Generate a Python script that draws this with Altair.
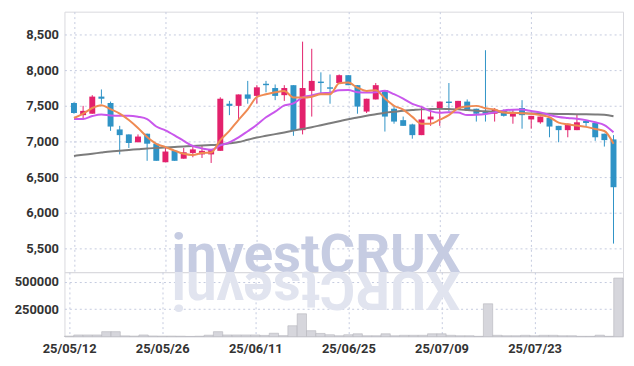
import altair as alt
import pandas as pd

dates = ["25/05/12", "25/05/13", "25/05/14", "25/05/15", "25/05/16", "25/05/19", "25/05/20", "25/05/21", "25/05/22", "25/05/23",
         "25/05/26", "25/05/27", "25/05/28", "25/05/29", "25/05/30", "25/06/02", "25/06/04", "25/06/05", "25/06/09", "25/06/10",
         "25/06/11", "25/06/12", "25/06/13", "25/06/16", "25/06/17", "25/06/18", "25/06/19", "25/06/20", "25/06/23", "25/06/24",
         "25/06/25", "25/06/26", "25/06/27", "25/06/30", "25/07/01", "25/07/02", "25/07/03", "25/07/04", "25/07/07", "25/07/08",
         "25/07/09", "25/07/10", "25/07/11", "25/07/14", "25/07/15", "25/07/16", "25/07/17", "25/07/18", "25/07/21", "25/07/22",
         "25/07/23", "25/07/24", "25/07/25", "25/07/28", "25/07/29", "25/07/30", "25/07/31", "25/08/01", "25/08/04", "25/08/05"]

opens = [7540, 7370, 7390, 7630, 7540, 7170, 7100, 6990, 7110, 6970,
         6710, 6870, 6760, 6840, 6820, 6820, 6870, 7530, 7500, 7660,
         7640, 7810, 7750, 7650, 7790, 7160, 7710, 7840, 7760, 7820,
         7930, 7790, 7420, 7590, 7720, 7460, 7300, 7240, 7090, 7310,
         7460, 7560, 7460, 7560, 7460, 7420, 7390, 7440, 7350, 7470,
         7310, 7270, 7330, 7220, 7160, 7160, 7290, 7260, 7110, 7030]
highs = [7550, 7500, 7650, 7730, 7560, 7220, 7100, 7100, 7110, 6980,
         6910, 6870, 6910, 6930, 6940, 6890, 7620, 7570, 7660, 7850,
         7790, 7850, 7800, 7790, 7790, 8400, 8300, 7970, 7940, 7940,
         7930, 7790, 7600, 7820, 7720, 7500, 7350, 7250, 7500, 7440,
         7560, 7820, 7570, 7590, 7460, 8280, 7470, 7450, 7450, 7580,
         7360, 7350, 7330, 7220, 7250, 7380, 7300, 7260, 7110, 7090]
lows = [7390, 7320, 7390, 7530, 7150, 6820, 6910, 6990, 6730, 6730,
        6710, 6730, 6760, 6780, 6770, 6700, 6870, 7370, 7300, 7530,
        7530, 7690, 7580, 7570, 7080, 7100, 7350, 7680, 7530, 7820,
        7790, 7390, 7400, 7590, 7140, 7250, 7220, 7040, 7090, 7220,
        7220, 7420, 7460, 7440, 7280, 7280, 7280, 7350, 7250, 7180,
        7180, 7250, 7060, 6990, 7060, 7160, 7210, 7010, 6930, 5570]
closes = [7400, 7430, 7630, 7600, 7210, 7090, 6980, 7070, 6970, 6730,
          6860, 6730, 6850, 6890, 6870, 6890, 7600, 7500, 7660, 7600,
          7760, 7790, 7640, 7750, 7150, 7750, 7850, 7820, 7740, 7930,
          7790, 7490, 7600, 7790, 7350, 7280, 7220, 7090, 7310, 7350,
          7560, 7540, 7570, 7440, 7390, 7390, 7450, 7360, 7410, 7370,
          7360, 7350, 7210, 7160, 7250, 7270, 7260, 7060, 7020, 6360]
volumes = [4000, 14000, 14000, 14000, 44000, 44000, 6000, 4000, 14000, 5000,
           4000, 4000, 3000, 1000, 3000, 12000, 44000, 14000, 14000, 14000,
           14000, 10000, 30000, 8000, 98000, 207000, 53000, 28000, 16000, 7000,
           16000, 25000, 7000, 7000, 25000, 7000, 11000, 11000, 11000, 25000,
           25000, 11000, 7000, 7000, 2000, 298000, 11000, 7000, 7000, 11000,
           7000, 11000, 11000, 7000, 7000, 2000, 2000, 12000, 2000, 532000]
ma5 = [7330, 7390, 7470, 7510, 7454, 7392, 7302, 7190, 7064, 6968,
       6922, 6872, 6828, 6812, 6840, 6846, 7020, 7150, 7304, 7450,
       7624, 7662, 7690, 7708, 7618, 7616, 7628, 7664, 7662, 7818,
       7826, 7754, 7710, 7720, 7604, 7502, 7448, 7346, 7250, 7250,
       7306, 7370, 7466, 7492, 7500, 7466, 7448, 7406, 7400, 7396,
       7390, 7370, 7340, 7266, 7242, 7224, 7206, 7176, 7148, 6970]
ma10 = [7315, 7315, 7357, 7380, 7366, 7361, 7361, 7347, 7315, 7211,
        7157, 7087, 7009, 6938, 6904, 6884, 6946, 6989, 7058, 7145,
        7235, 7341, 7420, 7506, 7534, 7620, 7645, 7677, 7685, 7718,
        7721, 7691, 7687, 7691, 7711, 7664, 7601, 7528, 7485, 7427,
        7404, 7409, 7406, 7371, 7375, 7386, 7409, 7436, 7446, 7448,
        7428, 7409, 7373, 7345, 7331, 7319, 7300, 7270, 7231, 7130]
ma60 = [6799, 6815, 6830, 6846, 6861, 6872, 6883, 6893, 6903, 6910,
        6917, 6924, 6931, 6937, 6944, 6951, 6958, 6975, 6993, 7025,
        7056, 7080, 7104, 7128, 7153, 7177, 7201, 7229, 7257, 7285,
        7313, 7337, 7361, 7382, 7403, 7417, 7431, 7441, 7451, 7455,
        7458, 7455, 7451, 7441, 7431, 7424, 7417, 7410, 7403, 7398,
        7393, 7391, 7389, 7387, 7385, 7384, 7382, 7379, 7375, 7354]

price_ticks = [5500, 6000, 6500, 7000, 7500, 8000, 8500]
volume_ticks = [250000, 500000]
x_ticks = [0, 10, 20, 30, 40, 50]

RED = "#e3216c"
BLUE = "#2f93c6"
GRID = "#c4cadf"

df = pd.DataFrame({"idx": list(range(len(dates))), "date": dates, "open": opens, "high": highs,
                   "low": lows, "close": closes, "volume": volumes,
                   "ma5": ma5, "ma10": ma10, "ma60": ma60})

W = 564
H_PRICE = 263
H_VOL = 65

label_expr = "[" + ",".join("'" + d + "'" for d in dates) + "][datum.value]"
xscale = alt.Scale(domain=[-0.5, len(dates) - 0.5], nice=False, zero=False)

x_price = alt.X("idx:Q", scale=xscale,
                axis=alt.Axis(values=x_ticks, labels=False, ticks=False, domain=False, title=None,
                              grid=True, gridDash=[2, 3], gridColor=GRID, minExtent=0, maxExtent=0,
                              labelPadding=0))
x_vol_axis = alt.Axis(values=x_ticks, labelExpr=label_expr, ticks=False, domain=False, title=None,
                      grid=True, gridDash=[2, 3], gridColor=GRID, labelPadding=6, labelFlush=False)

yscale = alt.Scale(domain=[5170, 8820], nice=False, zero=False)
y_price = alt.Y("low:Q", scale=yscale,
                axis=alt.Axis(values=price_ticks, format=",d", title=None, ticks=False, domain=False,
                              labelPadding=6, grid=True, gridDash=[2, 3], gridColor=GRID,
                              minExtent=47, maxExtent=47))

color = alt.condition("datum.close >= datum.open", alt.value(RED), alt.value(BLUE))

base = alt.Chart(df)

watermark = alt.Chart(pd.DataFrame({"t": ["investCRUX"]})).mark_text(
    font="Roboto", fontWeight="bold", fontSize=55, color="#c6cce2", align="center", baseline="alphabetic"
).encode(x=alt.value(254), y=alt.value(H_PRICE), text="t:N")

wicks = base.mark_rule(strokeWidth=1).encode(x=x_price, y=y_price, y2="high:Q", color=color)
bodies = base.mark_bar(width=6).encode(x=x_price, y=alt.Y("open:Q", scale=yscale), y2="close:Q", color=color)

def ma_line(field, col, w):
    return base.mark_line(strokeWidth=w, color=col, interpolate="monotone").encode(
        x=x_price, y=alt.Y(field + ":Q", scale=yscale))

price = alt.layer(watermark, wicks, bodies,
                  ma_line("ma60", "#7c7c7c", 2),
                  ma_line("ma10", "#c957ec", 2),
                  ma_line("ma5", "#ef8a52", 2)).properties(width=W, height=H_PRICE)

reflection = alt.Chart(pd.DataFrame({"t": ["XURCtsevni"]})).mark_text(
    font="Roboto", fontWeight="bold", fontSize=55, color="#e1e4ef", align="center", baseline="alphabetic",
    angle=180
).encode(x=alt.value(254), y=alt.value(0), text="t:N")

vol_bars = base.transform_calculate(x0="datum.idx - 0.5", x1="datum.idx + 0.5").mark_bar(
    color="#d6d6dc", stroke="#b4b4bc", strokeWidth=0.6
).encode(
    x=alt.X("x0:Q", scale=xscale, axis=x_vol_axis),
    x2="x1:Q",
    y=alt.Y("volume:Q", scale=alt.Scale(domain=[0, 586000], nice=False),
            axis=alt.Axis(values=volume_ticks, format="d", title=None, ticks=False, domain=False,
                          labelPadding=6, grid=True, gridDash=[2, 3], gridColor=GRID,
                          minExtent=47, maxExtent=47)),
    y2=alt.datum(0))

volume = alt.layer(reflection, vol_bars).properties(width=W, height=H_VOL)

chart = alt.vconcat(price, volume, spacing=0, bounds="flush").properties(
    padding={"left": 5, "top": 1, "right": 2, "bottom": 2}
).configure_view(stroke="#d9d9de").configure_axis(
    labelFont="Roboto", labelFontSize=13, labelColor="#333333", labelFontWeight="bold"
)

chart.save("out.html", embed_options={"renderer": "svg", "actions": False})
